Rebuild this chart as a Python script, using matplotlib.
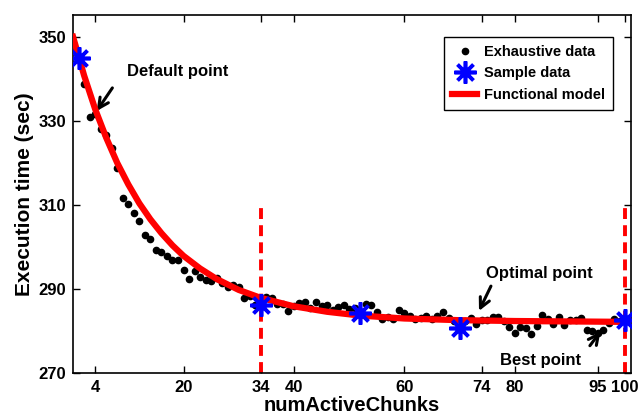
import matplotlib
matplotlib.use('Agg')
import matplotlib.pyplot as plt
import numpy as np

plt.rcParams['font.family'] = ['Liberation Sans', 'DejaVu Sans']
plt.rcParams['font.weight'] = 'bold'

# Exhaustive measurements, one per numActiveChunks value
chunks = list(range(1, 101))
exec_time = [345.0, 338.7, 331.0, 331.6, 328.0, 326.7, 323.6, 318.8, 311.6, 310.3,
             308.1, 306.3, 302.9, 301.9, 299.3, 298.7, 297.8, 296.9, 296.8, 294.5,
             292.5, 294.3, 292.8, 292.2, 292.0, 292.6, 291.5, 290.5, 290.9, 290.5,
             287.8, 288.4, 286.3, 287.0, 288.0, 287.8, 286.4, 286.5, 284.9, 286.0,
             286.7, 287.0, 285.4, 287.0, 285.9, 286.3, 285.0, 285.8, 286.1, 285.2,
             285.5, 284.5, 286.5, 286.1, 284.6, 283.0, 283.4, 282.8, 285.0, 284.4,
             283.6, 283.0, 283.2, 283.7, 283.0, 283.7, 284.5, 283.2, 282.5, 281.0,
             282.5, 283.2, 281.8, 282.6, 282.7, 283.3, 283.3, 282.3, 281.0, 279.5,
             280.9, 280.7, 279.2, 281.2, 283.8, 282.9, 281.6, 283.3, 281.5, 282.7,
             282.6, 283.1, 280.3, 280.1, 279.5, 280.2, 282.0, 283.0, 282.5, 282.5]

# Sample points
sample_x = [1, 34, 52, 70, 100]
sample_y = [345.0, 286.3, 284.3, 280.7, 282.6]

# Functional model curve
model_x = [0, 2, 4, 6, 8, 10, 12, 14, 16, 18, 20, 23, 26, 30, 34, 40, 46, 52, 60, 70, 80, 90, 100]
model_y = [350.0, 340.8, 332.8, 326.0, 320.0, 314.9, 310.4, 306.6, 303.3, 300.4, 297.9,
           294.9, 292.4, 289.8, 287.9, 285.9, 284.6, 283.7, 283.0, 282.6, 282.4, 282.3, 282.2]

xticks = [4, 20, 34, 40, 60, 74, 80, 95, 100]
yticks = [270, 290, 310, 330, 350]
bounds = [34, 100]

fig = plt.figure(figsize=(6.41, 4.16), dpi=100)
ax = fig.add_axes([0.114, 0.103, 0.870, 0.861])

ax.plot(chunks, exec_time, 'o', color='black', markersize=4.5, label='Exhaustive data', zorder=3)
ax.plot(sample_x, sample_y, linestyle='none', marker=(8, 2, 0), color='blue',
        markersize=16, markeredgewidth=2.6, label='Sample data', zorder=5)
ax.plot(model_x, model_y, color='red', linewidth=4.5, label='Functional model', zorder=4)

for b in bounds:
    ax.plot([b, b], [270, 310.5], color='red', linestyle=(0, (2.8, 1.6)), linewidth=2.8, zorder=2)

arrow = dict(arrowstyle='->', color='black', lw=2.2, mutation_scale=18)
ax.annotate('', xy=(4.0, 331.8), xytext=(7.4, 338.4), arrowprops=arrow)
ax.text(19.0, 341.7, 'Default point', ha='center', va='center', fontsize=12, fontweight='bold')

ax.annotate('', xy=(73.3, 284.2), xytext=(75.9, 291.3), arrowprops=arrow)
ax.text(84.4, 293.8, 'Optimal point', ha='center', va='center', fontsize=12, fontweight='bold')

ax.annotate('', xy=(95.8, 280.4), xytext=(93.3, 276.0), arrowprops=arrow)
ax.text(84.6, 273.1, 'Best point', ha='center', va='center', fontsize=12, fontweight='bold')

ax.set_xlim(0, 101)
ax.set_ylim(270, 355.2)
ax.set_xticks(xticks)
ax.set_yticks(yticks)
ax.tick_params(direction='in', top=True, right=True, length=5, width=1, labelsize=12, pad=5)
for lab in ax.get_xticklabels() + ax.get_yticklabels():
    lab.set_fontweight('bold')
for s in ax.spines.values():
    s.set_linewidth(1.2)

ax.set_xlabel('numActiveChunks', fontsize=14.5, fontweight='bold', labelpad=1)
ax.set_ylabel('Execution time (sec)', fontsize=15, fontweight='bold', labelpad=3)

leg = ax.legend(loc='upper right', bbox_to_anchor=(0.969, 0.9385), borderaxespad=0,
                fancybox=False, framealpha=1, edgecolor='black',
                prop={'weight': 'bold', 'size': 10.5},
                handlelength=1.7, borderpad=0.55, labelspacing=0.5, handletextpad=0.5)
leg.get_frame().set_linewidth(1.0)

fig.savefig('out.png', dpi=100)
